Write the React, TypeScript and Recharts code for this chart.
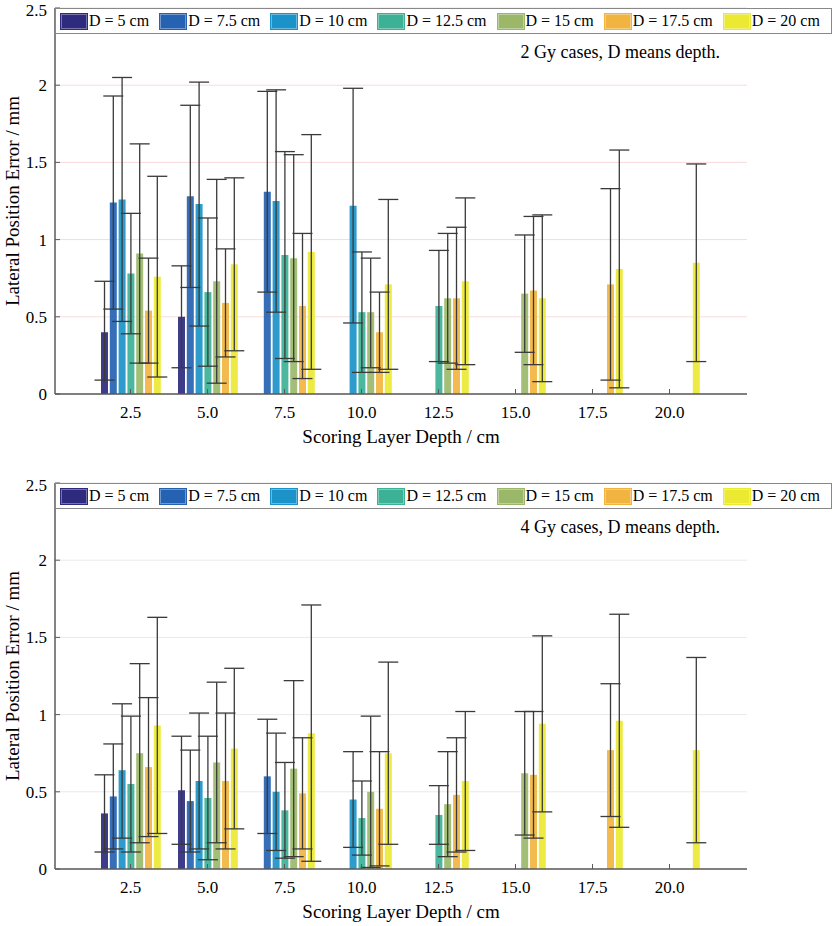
import React from 'react';
import { BarChart, Bar, XAxis, YAxis, CartesianGrid, ErrorBar, Legend } from 'recharts';

const categories = ['2.5', '5.0', '7.5', '10.0', '12.5', '15.0', '17.5', '20.0'];
const seriesNames = ['D = 5 cm', 'D = 7.5 cm', 'D = 10 cm', 'D = 12.5 cm', 'D = 15 cm', 'D = 17.5 cm', 'D = 20 cm'];
const seriesColors = ['#2e2a7e', '#2563b2', '#1b92c8', '#3cb196', '#9bb86a', '#f2b440', '#ece933'];
const yTicks = [0, 0.5, 1, 1.5, 2, 2.5];

const N = null;

// 2 Gy: mean, lower and upper end of the error bar, one row per depth D
const gy2Mean = [
  [0.40, 0.50, N, N, N, N, N, N],
  [1.24, 1.28, 1.31, N, N, N, N, N],
  [1.26, 1.23, 1.25, 1.22, N, N, N, N],
  [0.78, 0.66, 0.90, 0.53, 0.57, N, N, N],
  [0.91, 0.73, 0.88, 0.53, 0.62, 0.65, N, N],
  [0.54, 0.59, 0.57, 0.40, 0.62, 0.67, 0.71, N],
  [0.76, 0.84, 0.92, 0.71, 0.73, 0.62, 0.81, 0.85],
];
const gy2Low = [
  [0.09, 0.17, N, N, N, N, N, N],
  [0.55, 0.69, 0.66, N, N, N, N, N],
  [0.47, 0.44, 0.53, 0.46, N, N, N, N],
  [0.39, 0.18, 0.23, 0.14, 0.21, N, N, N],
  [0.20, 0.07, 0.21, 0.17, 0.20, 0.27, N, N],
  [0.20, 0.24, 0.10, 0.14, 0.16, 0.19, 0.09, N],
  [0.11, 0.28, 0.16, 0.16, 0.19, 0.08, 0.04, 0.21],
];
const gy2High = [
  [0.73, 0.83, N, N, N, N, N, N],
  [1.93, 1.87, 1.96, N, N, N, N, N],
  [2.05, 2.02, 1.97, 1.98, N, N, N, N],
  [1.17, 1.14, 1.57, 0.92, 0.93, N, N, N],
  [1.62, 1.39, 1.55, 0.88, 1.04, 1.03, N, N],
  [0.88, 0.94, 1.04, 0.66, 1.08, 1.15, 1.33, N],
  [1.41, 1.40, 1.68, 1.26, 1.27, 1.16, 1.58, 1.49],
];

// 4 Gy
const gy4Mean = [
  [0.36, 0.51, N, N, N, N, N, N],
  [0.47, 0.44, 0.60, N, N, N, N, N],
  [0.64, 0.57, 0.50, 0.45, N, N, N, N],
  [0.55, 0.46, 0.38, 0.33, 0.35, N, N, N],
  [0.75, 0.69, 0.65, 0.50, 0.42, 0.62, N, N],
  [0.66, 0.57, 0.49, 0.39, 0.48, 0.61, 0.77, N],
  [0.93, 0.78, 0.88, 0.75, 0.57, 0.94, 0.96, 0.77],
];
const gy4Low = [
  [0.11, 0.16, N, N, N, N, N, N],
  [0.13, 0.11, 0.23, N, N, N, N, N],
  [0.20, 0.13, 0.12, 0.14, N, N, N, N],
  [0.11, 0.06, 0.07, 0.09, 0.16, N, N, N],
  [0.17, 0.17, 0.08, 0.01, 0.08, 0.22, N, N],
  [0.21, 0.13, 0.13, 0.02, 0.11, 0.20, 0.34, N],
  [0.23, 0.26, 0.05, 0.16, 0.12, 0.37, 0.27, 0.17],
];
const gy4High = [
  [0.61, 0.86, N, N, N, N, N, N],
  [0.81, 0.77, 0.97, N, N, N, N, N],
  [1.07, 1.01, 0.88, 0.76, N, N, N, N],
  [0.99, 0.86, 0.69, 0.57, 0.54, N, N, N],
  [1.33, 1.21, 1.22, 0.99, 0.76, 1.02, N, N],
  [1.11, 1.01, 0.85, 0.76, 0.85, 1.02, 1.20, N],
  [1.63, 1.30, 1.71, 1.34, 1.02, 1.51, 1.65, 1.37],
];

const FONT = '"Liberation Serif", "Times New Roman", serif';
const AXIS = '#5a5a5a';

function buildRows(mean, low, high) {
  return categories.map((cat, i) => {
    const row: any = { cat };
    mean.forEach((series, s) => {
      const m = series[i];
      row['v' + s] = m;
      row['e' + s] = m == null ? null : [m - low[s][i], high[s][i] - m];
    });
    return row;
  });
}

const LegendBox = ({ note }: { note: string }) => (
  <div style={{ position: 'relative', fontFamily: FONT }}>
    <div
      style={{
        boxSizing: 'border-box',
        height: 26,
        border: '1.5px solid #888',
        background: '#fff',
        display: 'flex',
        alignItems: 'center',
        paddingLeft: 5,
      }}
    >
      {seriesNames.map((name, i) => (
        <div key={name} style={{ display: 'flex', alignItems: 'center', marginRight: 11 }}>
          <span
            style={{
              display: 'inline-block',
              boxSizing: 'border-box',
              width: 26,
              height: 15,
              background: seriesColors[i],
              border: '1px solid rgba(255,255,255,0.35)',
              outline: `1px solid ${seriesColors[i]}`,
              marginRight: 2,
            }}
          />
          <span style={{ fontSize: 16, color: '#000', whiteSpace: 'nowrap' }}>{name}</span>
        </div>
      ))}
    </div>
    <div
      style={{
        position: 'absolute',
        top: 34,
        right: 112,
        fontSize: 18,
        lineHeight: '20px',
        color: '#000',
        whiteSpace: 'nowrap',
      }}
    >
      {note}
    </div>
  </div>
);

const Panel = ({ mean, low, high, grid, note }) => {
  const rows = buildRows(mean, low, high);
  return (
    <BarChart
      width={835}
      height={451}
      data={rows}
      margin={{ top: 8, right: 88, bottom: 0, left: 0 }}
      barSize={7}
      barGap={1.8}
    >
      <CartesianGrid vertical={false} stroke={grid} strokeWidth={1} />
      <XAxis
        dataKey="cat"
        height={57}
        padding={{ left: 37, right: 39 }}
        axisLine={{ stroke: AXIS, strokeWidth: 1.5 }}
        tickLine={{ stroke: AXIS }}
        tickSize={-5}
        tickMargin={17}
        tick={{ fill: '#000', fontSize: 17, fontFamily: FONT }}
        label={{
          value: 'Scoring Layer Depth / cm',
          position: 'insideBottom',
          offset: 8,
          fill: '#000',
          fontSize: 19,
          fontFamily: FONT,
        }}
      />
      <YAxis
        width={55}
        domain={[0, 2.5]}
        ticks={yTicks}
        allowDataOverflow
        axisLine={{ stroke: AXIS, strokeWidth: 1.5 }}
        tickLine={{ stroke: AXIS }}
        tickSize={-5}
        tickMargin={13}
        tickFormatter={(v) => String(v)}
        tick={{ fill: '#000', fontSize: 17, fontFamily: FONT }}
        label={{
          value: 'Lateral Position Error / mm',
          angle: -90,
          position: 'insideLeft',
          offset: 12,
          fill: '#000',
          fontSize: 19,
          fontFamily: FONT,
          style: { textAnchor: 'middle' },
        }}
      />
      <YAxis
        yAxisId="r"
        orientation="right"
        width={0}
        domain={[0, 2.5]}
        ticks={yTicks}
        allowDataOverflow
        axisLine={{ stroke: AXIS, strokeWidth: 1.5 }}
        tickLine={{ stroke: AXIS }}
        tickSize={-5}
        tickFormatter={() => ''}
      />
      <Legend
        layout="horizontal"
        verticalAlign="middle"
        align="center"
        wrapperStyle={{ top: 8, left: 55, width: 777, height: 26 }}
        content={() => <LegendBox note={note} />}
      />
      {seriesNames.map((name, s) => (
        <Bar
          key={name}
          dataKey={'v' + s}
          name={name}
          fill={seriesColors[s]}
          fillOpacity={0.92}
          isAnimationActive={false}
        >
          <ErrorBar
            dataKey={'e' + s}
            width={10}
            stroke="#3a3a3a"
            strokeWidth={1.3}
            direction="y"
            isAnimationActive={false}
          />
        </Bar>
      ))}
    </BarChart>
  );
};

export default function App() {
  return (
    <div style={{ width: 835, height: 926, background: '#fff', fontFamily: FONT }}>
      <style>{'body{margin:0;background:#fff;}'}</style>
      <div style={{ height: 475 }}>
        <Panel mean={gy2Mean} low={gy2Low} high={gy2High} grid="#f8dadd" note="2 Gy cases, D means depth." />
      </div>
      <div style={{ height: 451 }}>
        <Panel mean={gy4Mean} low={gy4Low} high={gy4High} grid="#e9e9e9" note="4 Gy cases, D means depth." />
      </div>
    </div>
  );
}
